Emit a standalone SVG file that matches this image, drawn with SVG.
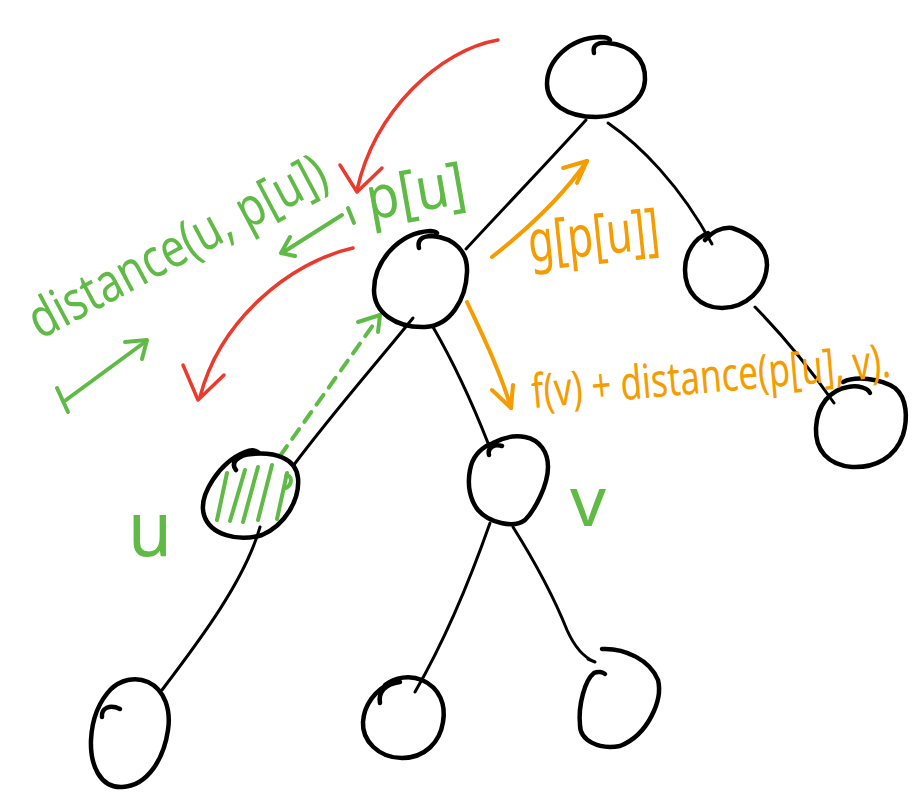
<svg xmlns="http://www.w3.org/2000/svg" width="923" height="811" viewBox="0 0 923 811">
  <style>
    .node { fill: none; stroke: #000; stroke-width: 4.5; stroke-linecap: round; stroke-linejoin: round; }
    .edge { fill: none; stroke: #000; stroke-width: 3; stroke-linecap: round; stroke-linejoin: round; }
    .red { fill: none; stroke: #e93a2c; stroke-width: 3.5; stroke-linecap: round; stroke-linejoin: round; }
    .green { fill: none; stroke: #5fba46; stroke-width: 4; stroke-linecap: round; stroke-linejoin: round; }
    .orange { fill: none; stroke: #f59c00; stroke-width: 4; stroke-linecap: round; stroke-linejoin: round; }
    .hw { font-family: "Noto Sans", "DejaVu Sans", sans-serif; }
    .tg { fill: #5fba46; }
    .to { fill: #f59c00; }
  </style>

  <rect width="923" height="811" fill="#fff"/>

  <!-- tree edges and annotation arrows -->
  <g id="connectors">
    <path class="edge" d="M 586 120 C 550 160, 500 212, 466 249"/>
    <path class="edge" d="M 608 123 C 640 145, 680 185, 712 244"/>
    <path class="edge" d="M 755 307 Q 797 350, 834 403"/>
    <path class="edge" d="M 413 318 C 375 365, 335 410, 293 466"/>
    <path class="edge" d="M 433 327 C 455 365, 475 410, 488 443"/>
    <path class="edge" d="M 260 527 C 245 580, 200 640, 162 690"/>
    <path class="edge" d="M 490 523 C 470 580, 445 640, 415 692"/>
    <path class="edge" d="M 513 527 C 540 570, 555 600, 567 630 C 575 648, 585 658, 595 662 L 588 659"/>

    <!-- red curved arrows -->
    <path class="red" d="M 498 40 C 440 50, 375 110, 357 190"/>
    <path class="red" d="M 340 165 L 357 192 L 382 168"/>
    <path class="red" stroke-width="4" d="M 353 248 C 290 262, 220 320, 200 397"/>
    <path class="red" stroke-width="4" d="M 183 365 L 198 400 L 224 375"/>

    <!-- green arrows -->
    <path class="green" d="M 342 215 L 282 253"/>
    <path class="green" d="M 290 237 L 281 253 L 295 256"/>
    <path class="green" stroke-width="5" d="M 348 208 L 354 223"/>
    <path class="green" d="M 57 388 L 68 412"/>
    <path class="green" d="M 66 400 L 145 342"/>
    <path class="green" d="M 125 342 L 147 340 L 142 359"/>
    <path class="green" stroke-width="2.5" stroke-dasharray="12 9" d="M 280 456 L 376 321"/>
    <path class="green" stroke-width="2.5" d="M 358 322 L 380 315 L 378 332"/>

    <!-- orange arrows -->
    <path class="orange" d="M 492 257 C 520 235, 560 200, 587 161"/>
    <path class="orange" d="M 563 168 L 587 161 L 577 183"/>
    <path class="orange" d="M 467 302 C 480 330, 500 370, 511 408"/>
    <path class="orange" d="M 492 390 L 511 408 L 513 385"/>
  </g>

  <!-- root -->
  <g id="node-root">
    <path class="node" d="M 594 53 C 592 45, 598 42, 608 43 C 630 45, 646 58, 645 80 C 644 100, 622 117, 596 117 C 566 117, 547 103, 547 84 C 547 60, 570 38, 600 37 C 606 37, 609 38, 610 40"/>
  </g>

  <!-- p[u] -->
  <g id="node-pu">
    <path class="node" d="M 419 248 C 417 240, 422 236, 432 236 C 455 238, 468 252, 467 272 C 466 300, 450 326, 425 327 C 395 328, 374 312, 374 290 C 374 262, 398 233, 430 231 C 434 231, 436 232, 437 233"/>
  </g>

  <!-- right child of root -->
  <g id="node-right">
    <path class="node" d="M 705 240 C 712 232, 722 227, 732 228 C 750 234, 767 245, 767 265 C 766 290, 745 308, 722 308 C 700 308, 685 292, 685 270 C 685 252, 695 238, 708 233"/>
  </g>

  <!-- far right leaf -->
  <g id="node-far-right">
    <path class="node" d="M 843 382 C 855 376, 880 378, 895 388 C 907 398, 908 418, 903 435 C 895 458, 875 468, 852 467 C 828 465, 815 450, 816 428 C 817 405, 830 390, 848 387 C 858 385, 868 388, 870 393"/>
  </g>

  <!-- u (hatched) -->
  <g id="node-u">
    <path class="green" stroke-width="5" d="M 227 473 L 217 520 M 245 470 L 230 521 M 258 467 L 243 522 M 272 465 L 258 520 M 287 473 L 277 519 M 286 476 C 292 474, 293 484, 286 488"/>
    <path class="node" d="M 236 470 C 230 463, 238 455, 252 454 C 275 452, 296 458, 298 478 C 300 500, 285 525, 262 535 C 238 542, 210 535, 204 515 C 198 495, 220 462, 245 452 C 250 450, 255 450, 258 452"/>
  </g>

  <!-- v -->
  <g id="node-v">
    <path class="node" d="M 489 455 C 487 447, 495 444, 502 446 M 493 443 C 502 438, 513 435, 525 437 C 540 440, 548 452, 548 467 C 548 485, 535 510, 525 520 C 515 528, 490 524, 478 510 C 470 500, 467 485, 470 470 C 472 458, 480 449, 490 444"/>
  </g>

  <!-- leaf under u -->
  <g id="node-leaf-1">
    <path class="node" d="M 110 690 C 120 680, 135 676, 148 682 C 165 690, 171 710, 168 730 C 164 758, 148 786, 122 787 C 100 788, 90 765, 91 740 C 92 718, 100 700, 112 688"/>
    <path class="node" stroke-width="3" d="M 102 717 C 101 708, 110 704, 120 709"/>
  </g>

  <!-- leaves under v -->
  <g id="node-leaf-2">
    <path class="node" d="M 385 685 C 395 677, 410 675, 422 680 C 440 688, 446 705, 443 722 C 440 742, 425 758, 402 758 C 378 758, 362 740, 363 722 C 364 705, 375 690, 392 682"/>
    <path class="node" stroke-width="3" d="M 380 703 C 378 692, 385 684, 400 682"/>
  </g>

  <g id="node-leaf-3">
    <path class="node" d="M 602 649 C 625 648, 650 660, 658 680 C 663 700, 648 735, 620 746 C 598 750, 580 740, 580 725 C 578 705, 585 680, 594 673 C 598 671, 603 672, 605 674"/>
  </g>

  <!-- labels -->
  <g id="labels" class="hw">
    <text class="tg" font-size="54" transform="translate(40,340) rotate(-28)" textLength="330" lengthAdjust="spacingAndGlyphs">distance(u, p[u])</text>
    <text class="tg" font-size="60" transform="translate(370,220) rotate(-10)" textLength="100" lengthAdjust="spacingAndGlyphs">p[u]</text>
    <text class="to" font-size="58" transform="translate(530,262) rotate(-6)" textLength="132" lengthAdjust="spacingAndGlyphs">g[p[u]]</text>
    <text class="to" font-size="47" transform="translate(533,408) rotate(-5)" textLength="360" lengthAdjust="spacingAndGlyphs">f(v) + distance(p[u], v).</text>
    <text class="tg" font-size="76" x="128" y="556" textLength="44" lengthAdjust="spacingAndGlyphs">u</text>
    <text class="tg" font-size="70" x="570" y="526" textLength="36" lengthAdjust="spacingAndGlyphs">v</text>
  </g>
</svg>
